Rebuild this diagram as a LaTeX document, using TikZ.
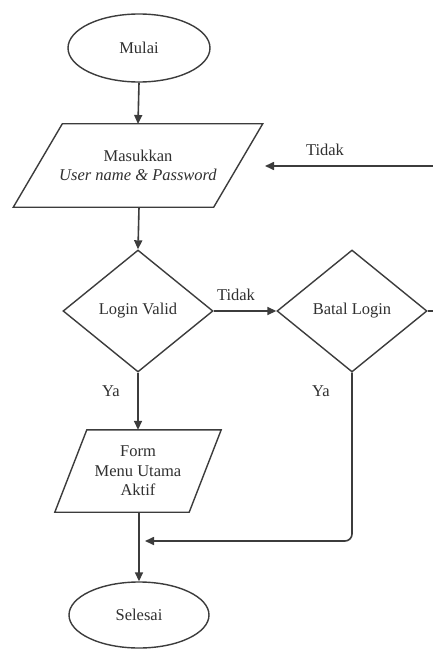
\documentclass[tikz,border=0pt]{standalone}
\usepackage{fontspec}
\setmainfont{Liberation Serif}
\newfontfamily\chartfont{Liberation Serif}
\usetikzlibrary{shapes.geometric,arrows.meta,calc}

\definecolor{ink}{HTML}{3C3C3C}
\definecolor{txt}{HTML}{303030}

\tikzset{
  chartfont/.style={font=\chartfont\fontsize{16.5}{19.5}\selectfont},
  base/.style={draw=ink, line width=1.4pt, text=txt, inner sep=0pt,
    chartfont, align=center},
  terminal/.style={base, ellipse},
  decision/.style={base, diamond, minimum width=150pt, minimum height=122pt},
  iobox/.style={inner sep=0pt, text=txt, chartfont, align=center},
  flow/.style={draw=ink, line width=1.6pt, -{Triangle[length=9pt,width=8pt]}},
  lbl/.style={text=txt, chartfont, inner sep=0pt}
}

\begin{document}
\begin{tikzpicture}[x=1pt,y=-1pt]
  \useasboundingbox (0,0) rectangle (433,650);
  \fill[white] (0,0) rectangle (433,650);

  % start / end terminals
  \node[terminal, minimum width=142pt, minimum height=68pt] (start) at (139,48) {Mulai};
  \node[terminal, minimum width=140pt, minimum height=66pt] (stop) at (139,615) {Selesai};

  % input parallelogram: user name and password
  \node[iobox, minimum width=200pt, minimum height=83pt] (in) at (138,165.5)
    {Masukkan\\\textit{User name \& Password}};
  \draw[ink, line width=1.4pt]
    ($(in.north west)+(24.5,0)$) -- ($(in.north east)+(24.5,0)$) --
    ($(in.south east)+(-24.5,0)$) -- ($(in.south west)+(-24.5,0)$) -- cycle;

  % decisions
  \node[decision] (valid) at (138,311) {Login Valid};
  \node[decision] (cancel) at (352,311) {Batal Login};

  % output parallelogram: main menu form
  \node[iobox, minimum width=134pt, minimum height=82pt] (menu) at (138,471)
    {Form\\Menu Utama\\Aktif};
  \draw[ink, line width=1.4pt]
    ($(menu.north west)+(16,0)$) -- ($(menu.north east)+(16,0)$) --
    ($(menu.south east)+(-16,0)$) -- ($(menu.south west)+(-16,0)$) -- cycle;

  % free ends of connectors
  \coordinate (back) at (265,166);
  \coordinate (merge) at (145,541);

  % main flow
  \draw[flow] (start.south) -- (in.south |- 0,124);
  \draw[flow] (in.south -| 139,0) -- (valid.north);
  \draw[flow] (valid.south) -- (valid.south |- menu.north);
  \draw[flow] (menu.south -| 139,0) -- (stop.north);
  \draw[flow] (valid.east) -- (cancel.west);
  \draw[flow, rounded corners=7pt] (cancel.south) |- (merge);

  % loop back to the input step (runs past the right border)
  \begin{scope}
    \clip (0,0) rectangle (433,650);
    \draw[flow] (cancel.east) -- (450,311) |- (back);
  \end{scope}

  % labels
  \node[lbl] (tidak1) at (325,150) {Tidak};
  \node[lbl] (tidak2) at (236,295) {Tidak};
  \node[lbl] (ya1) at (111,391) {Ya};
  \node[lbl] (ya2) at (321,391) {Ya};
\end{tikzpicture}
\end{document}
